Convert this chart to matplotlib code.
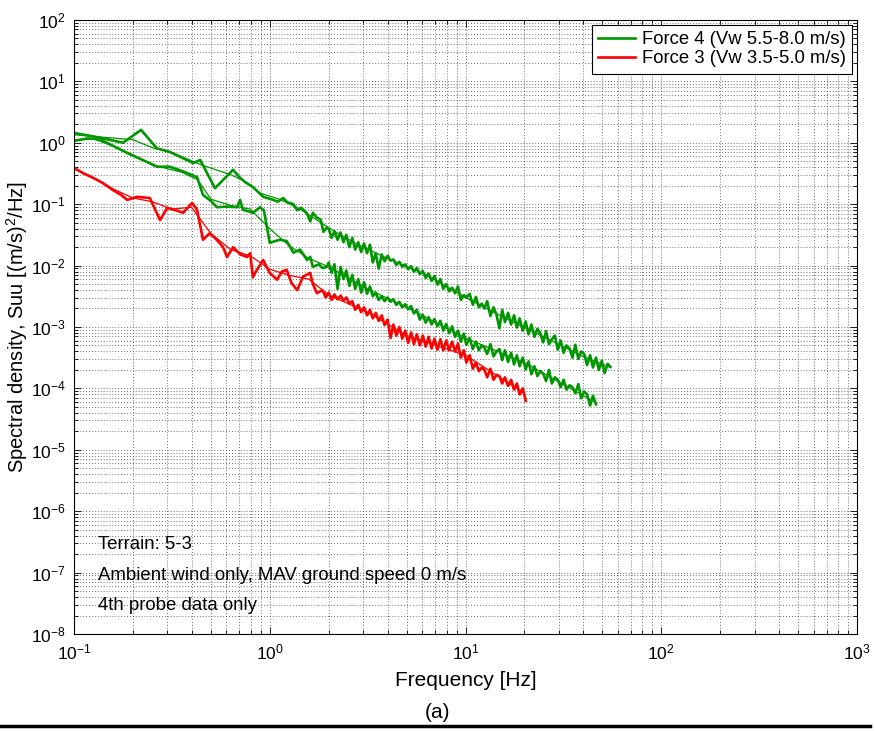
import numpy as np
import matplotlib
matplotlib.use("Agg")
import matplotlib.pyplot as plt
from matplotlib.lines import Line2D
from matplotlib.ticker import LogLocator, NullFormatter

plt.rcParams["font.family"] = ["Liberation Sans", "DejaVu Sans"]
plt.rcParams["mathtext.default"] = "regular"
plt.rcParams["axes.unicode_minus"] = False

# -- Data (frequency in Hz, Suu as log10 decades) ----------------------------
# shared frequency grid for the dense high-frequency part of every spectrum
freq_dense = [2.0, 2.07, 2.14, 2.22, 2.30, 2.38, 2.46, 2.55, 2.64, 2.73,
              2.83, 2.93, 3.03, 3.14, 3.25, 3.36, 3.48, 3.60, 3.73, 3.86,
              4.0, 4.14, 4.28, 4.43, 4.59, 4.75, 4.92, 5.09, 5.27, 5.45,
              5.64, 5.84, 6.05, 6.26, 6.48, 6.71, 6.94, 7.19, 7.44, 7.70,
              7.97, 8.25, 8.54, 8.84, 9.15, 9.47, 9.80, 10.1, 10.5, 10.9,
              11.3, 11.7, 12.1, 12.5, 12.9, 13.4, 13.9, 14.4, 14.9, 15.4,
              15.9, 16.5, 17.1, 17.7, 18.3, 18.9, 19.6, 20.3, 21.0, 21.7,
              22.5, 23.3, 24.1, 24.9, 25.8, 26.7, 27.6, 28.6, 29.6, 30.6,
              31.7, 32.8, 34.0, 35.2, 36.4, 37.7, 39.0, 40.4, 41.8, 43.3,
              44.8, 46.4, 48.0, 49.7, 51.4, 53.2, 55.0]

# Force 4, first run (upper green)
g1_low_f = [0.100, 0.132, 0.178, 0.220, 0.265, 0.309, 0.406, 0.441, 0.525, 0.649,
            0.705, 0.748, 0.820, 0.925, 1.04, 1.10, 1.17, 1.23, 1.32, 1.38,
            1.45, 1.55, 1.61, 1.66, 1.74, 1.82, 1.88, 1.96]
g1_low_s = [0.16, 0.09, 0.00, 0.21, -0.09, -0.15, -0.33, -0.28, -0.74, -0.44,
            -0.57, -0.64, -0.72, -0.88, -0.93, -0.96, -0.90, -0.97, -1.00, -1.10,
            -1.06, -1.15, -1.28, -1.14, -1.22, -1.25, -1.45, -1.38]
g1_dense = [-1.40, -1.55, -1.44, -1.58, -1.46, -1.62, -1.50, -1.70, -1.55, -1.74,
            -1.62, -1.78, -1.64, -1.80, -1.66, -1.95, -1.80, -2.05, -1.82, -1.93,
            -1.84, -1.92, -1.90, -1.99, -1.94, -2.02, -1.98, -2.06, -2.01, -2.10,
            -2.04, -2.14, -2.09, -2.20, -2.13, -2.25, -2.17, -2.31, -2.22, -2.38,
            -2.30, -2.42, -2.36, -2.45, -2.34, -2.56, -2.48, -2.52, -2.46, -2.64,
            -2.51, -2.68, -2.62, -2.70, -2.58, -2.82, -2.68, -2.80, -3.02, -2.72,
            -2.92, -2.77, -2.96, -2.81, -3.01, -2.86, -3.06, -2.91, -3.12, -2.96,
            -3.16, -3.03, -3.10, -3.25, -3.07, -3.28, -3.20, -3.14, -3.37, -3.22,
            -3.42, -3.30, -3.35, -3.50, -3.29, -3.52, -3.40, -3.44, -3.62, -3.46,
            -3.66, -3.50, -3.70, -3.55, -3.75, -3.60, -3.65]
g1_smooth_f = [0.100, 0.200, 0.251, 0.316, 0.447, 0.631, 0.741, 0.891, 1.12, 1.41,
               1.78, 2.24, 2.82, 3.98, 6.31, 10.0, 15.8, 25.1, 39.8, 55.0]
g1_smooth_s = [0.13, 0.05, -0.08, -0.16, -0.36, -0.52, -0.62, -0.82, -0.92, -1.07,
               -1.28, -1.48, -1.66, -1.88, -2.15, -2.52, -2.85, -3.16, -3.48, -3.66]

# Force 4, second run (lower green)
g2_low_f = [0.100, 0.117, 0.135, 0.158, 0.191, 0.224, 0.265, 0.309, 0.363, 0.425,
            0.456, 0.501, 0.538, 0.603, 0.681, 0.705, 0.729, 0.820, 0.891, 0.933,
            1.00, 1.07, 1.13, 1.22, 1.32, 1.43, 1.55, 1.61, 1.66, 1.78,
            1.86, 1.96]
g2_low_s = [0.03, 0.07, 0.06, -0.05, -0.18, -0.28, -0.39, -0.39, -0.47, -0.56,
            -0.85, -0.95, -1.05, -1.04, -1.05, -0.93, -1.09, -1.14, -1.05, -1.10,
            -1.63, -1.60, -1.58, -1.60, -1.79, -1.74, -1.91, -1.86, -2.02, -1.98,
            -2.04, -2.02]
g2_dense = [-1.95, -2.12, -1.98, -2.38, -2.02, -2.22, -2.08, -2.33, -2.15, -2.38,
            -2.22, -2.44, -2.27, -2.46, -2.34, -2.50, -2.44, -2.56, -2.50, -2.58,
            -2.52, -2.59, -2.55, -2.64, -2.59, -2.68, -2.63, -2.71, -2.66, -2.78,
            -2.72, -2.88, -2.80, -2.93, -2.84, -2.96, -2.87, -2.99, -2.90, -3.06,
            -2.95, -3.10, -2.99, -3.16, -3.06, -3.24, -3.11, -3.29, -3.18, -3.36,
            -3.24, -3.38, -3.30, -3.34, -3.44, -3.28, -3.48, -3.40, -3.36, -3.54,
            -3.38, -3.57, -3.42, -3.61, -3.46, -3.64, -3.50, -3.69, -3.56, -3.77,
            -3.64, -3.80, -3.72, -3.76, -3.88, -3.70, -3.92, -3.82, -3.86, -3.98,
            -3.86, -4.02, -3.95, -3.98, -4.08, -3.93, -4.16, -4.05, -4.10, -4.28,
            -4.12, -4.26]
g2_smooth_f = [0.100, 0.126, 0.158, 0.265, 0.355, 0.427, 0.501, 0.631, 0.794, 1.00,
               1.26, 1.58, 2.00, 3.16, 5.01, 10.0, 20.0, 46.8]
g2_smooth_s = [0.05, 0.06, -0.05, -0.38, -0.48, -0.60, -0.92, -1.02, -1.08, -1.40,
               -1.68, -1.88, -2.02, -2.38, -2.68, -3.18, -3.58, -4.24]

# Force 3 (red)
r_low_f = [0.100, 0.112, 0.125, 0.141, 0.158, 0.174, 0.187, 0.210, 0.244, 0.275,
           0.299, 0.331, 0.361, 0.401, 0.425, 0.456, 0.490, 0.513, 0.550, 0.577,
           0.605, 0.649, 0.708, 0.766, 0.794, 0.820, 0.841, 0.925, 1.00, 1.09,
           1.15, 1.22, 1.29, 1.38, 1.48, 1.61, 1.66, 1.74, 1.86, 1.93]
r_low_s = [-0.41, -0.50, -0.57, -0.66, -0.77, -0.85, -0.93, -0.88, -0.90, -1.26,
           -1.06, -1.10, -1.14, -0.98, -1.09, -1.58, -1.48, -1.52, -1.62, -1.70,
           -1.86, -1.70, -1.82, -1.86, -1.80, -2.19, -2.12, -1.91, -2.12, -2.23,
           -2.10, -2.07, -2.28, -2.40, -2.18, -2.12, -2.30, -2.45, -2.40, -2.52]
r_dense = [-2.44, -2.56, -2.47, -2.55, -2.49, -2.57, -2.52, -2.62, -2.58, -2.72,
           -2.64, -2.76, -2.68, -2.81, -2.72, -2.86, -2.77, -2.90, -2.81, -2.97,
           -2.88, -3.18, -2.96, -3.14, -3.00, -3.19, -3.06, -3.26, -3.09, -3.28,
           -3.12, -3.30, -3.14, -3.32, -3.16, -3.35, -3.19, -3.37, -3.20, -3.38,
           -3.22, -3.38, -3.24, -3.40, -3.27, -3.50, -3.38, -3.58, -3.46, -3.68,
           -3.58, -3.72, -3.66, -3.70, -3.82, -3.68, -3.86, -3.78, -3.80, -3.92,
           -3.82, -3.96, -3.86, -4.02, -3.92, -4.10, -4.00, -4.20]
r_smooth_f = [0.100, 0.126, 0.158, 0.200, 0.251, 0.316, 0.398, 0.501, 0.631, 0.794,
              1.00, 1.26, 1.58, 2.00, 3.16, 5.01, 10.0, 20.0]
r_smooth_s = [-0.42, -0.57, -0.75, -0.90, -0.96, -1.08, -1.05, -1.48, -1.74, -1.84,
              -2.06, -2.16, -2.22, -2.48, -2.76, -3.14, -3.46, -4.08]

LABEL_F4 = "Force 4 (Vw 5.5-8.0 m/s)"
LABEL_F3 = "Force 3 (Vw 3.5-5.0 m/s)"
NOTES = ["Terrain: 5-3",
         "Ambient wind only, MAV ground speed 0 m/s",
         "4th probe data only"]

GREEN = "#009600"
RED = "#ff0000"


def decades(v):
    return 10.0 ** np.asarray(v, dtype=float)


def raw_series(low_f, low_s, dense_s):
    f = list(low_f) + freq_dense[:len(dense_s)]
    return f, decades(list(low_s) + list(dense_s))


fig = plt.figure(figsize=(8.76, 7.31), dpi=100)
ax = fig.add_axes([0.0845, 0.1327, 0.8938, 0.840])

f, s = raw_series(g1_low_f, g1_low_s, g1_dense)
ax.plot(f, s, color=GREEN, lw=1.9, label=LABEL_F4)
ax.plot(g1_smooth_f, decades(g1_smooth_s), color=GREEN, lw=0.9)

f, s = raw_series(g2_low_f, g2_low_s, g2_dense)
ax.plot(f, s, color=GREEN, lw=1.9)
ax.plot(g2_smooth_f, decades(g2_smooth_s), color=GREEN, lw=0.9)

f, s = raw_series(r_low_f, r_low_s, r_dense)
ax.plot(f, s, color=RED, lw=1.9, label=LABEL_F3)
ax.plot(r_smooth_f, decades(r_smooth_s), color=RED, lw=0.9)

# -- axes ---------------------------------------------------------------------
ax.set_xscale("log")
ax.set_yscale("log")
ax.set_xlim(0.1, 1000)
ax.set_ylim(1e-8, 1e2)
ax.xaxis.set_major_locator(LogLocator(base=10, numticks=10))
ax.yaxis.set_major_locator(LogLocator(base=10, numticks=20))
ax.xaxis.set_minor_locator(LogLocator(base=10, subs=np.arange(2, 10), numticks=100))
ax.yaxis.set_minor_locator(LogLocator(base=10, subs=np.arange(2, 10), numticks=100))
ax.xaxis.set_minor_formatter(NullFormatter())
ax.yaxis.set_minor_formatter(NullFormatter())
ax.grid(True, which="both", linestyle=(0, (1, 2.5)), color="#404040", linewidth=0.6)
ax.set_axisbelow(True)
ax.tick_params(which="both", direction="in", top=True, right=True, width=0.6)
ax.tick_params(which="major", length=5, labelsize=12.5, pad=6)
ax.tick_params(which="minor", length=3)
for sp in ax.spines.values():
    sp.set_linewidth(0.8)

ax.set_xlabel("Frequency [Hz]", fontsize=15, labelpad=6)
ax.set_ylabel("Spectral density, Suu [(m/s)$^2$/Hz]", fontsize=14.5)
ax.yaxis.set_label_coords(-0.056, 0.5)

leg = ax.legend(loc="upper right", fontsize=13.3, fancybox=False, framealpha=1,
                edgecolor="black", borderaxespad=0.25, borderpad=0.35,
                labelspacing=0.12, handlelength=2.0, handletextpad=0.35)
leg.get_frame().set_linewidth(0.8)

for txt, yf in zip(NOTES, [0.145, 0.095, 0.046]):
    ax.text(0.031, yf, txt, transform=ax.transAxes, fontsize=13.4, va="center")

fig.text(0.5, 1 - 712 / 731, "(a)", ha="center", va="center", fontsize=15)
fig.add_artist(Line2D([0.0, 0.993], [0.0075, 0.0075], transform=fig.transFigure,
                      color="black", lw=2.5))

fig.savefig("out.png", dpi=100)
